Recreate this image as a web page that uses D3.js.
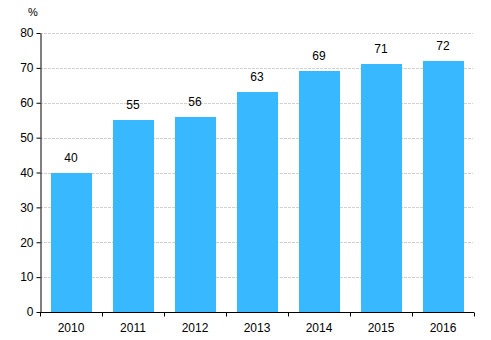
<!DOCTYPE html>
<html><head><meta charset="utf-8">
<script src="https://cdn.jsdelivr.net/npm/d3@7"></script>
<style>body{margin:0;background:#fff}svg{display:block}text{font-family:Arial,"Liberation Sans",sans-serif;font-size:12px;fill:#000}</style>
</head><body>
<svg id="c" width="491" height="340"></svg>
<script>
const categories = ["2010","2011","2012","2013","2014","2015","2016"];
const values = [40,55,56,63,69,71,72];
const yTicks = [0,10,20,30,40,50,60,70,80];
const unitLabel = "%";

(function(){
const svg = d3.select("#c");
const mLeft = 40, mRight = 474, mTop = 33, mBottom = 312;
const x = d3.scaleBand().domain(categories).range([mLeft, mRight]).paddingInner(0.34).paddingOuter(0.17);
const y = d3.scaleLinear().domain([0,80]).range([mBottom, mTop]);

// gridlines
svg.append("g").selectAll("line").data(yTicks.filter(d=>d>0)).join("line")
  .attr("x1", mLeft).attr("x2", 473)
  .attr("y1", d=>Math.round(y(d))+0.5).attr("y2", d=>Math.round(y(d))+0.5)
  .attr("stroke", "#d2d2d2").attr("stroke-width", 1).attr("stroke-dasharray","3,1");

// bars
svg.append("g").selectAll("rect").data(values).join("rect")
  .attr("x", (d,i)=>Math.round(x(categories[i])))
  .attr("width", Math.round(x.bandwidth()))
  .attr("y", d=>Math.round(y(d)))
  .attr("height", d=>mBottom - Math.round(y(d)))
  .attr("fill", "#38b8ff");

// value labels
svg.append("g").selectAll("text").data(values).join("text")
  .attr("x", (d,i)=>x(categories[i]) + x.bandwidth()/2)
  .attr("y", d=>y(d) - 11)
  .attr("text-anchor","middle")
  .text(d=>d);

// y axis
const ya = svg.append("g").attr("transform", `translate(${mLeft+0.5},0)`)
  .call(d3.axisLeft(y).tickValues(yTicks).tickSize(4).tickSizeOuter(0).tickPadding(3));
ya.select(".domain").attr("stroke","#000");
ya.selectAll(".tick line").attr("stroke","#000");
ya.selectAll("text").style("font-size","12px").attr("fill","#000").style("font-family","Arial,'Liberation Sans',sans-serif");

// x axis
const xt = d3.scalePoint().domain(d3.range(categories.length+1)).range([mLeft, mRight]);
const xa = svg.append("g").attr("transform", `translate(0,${mBottom+0.5})`);
xa.append("line").attr("x1", mLeft).attr("x2", mRight).attr("stroke","#000");
xa.selectAll("line.t").data(d3.range(categories.length+1)).join("line").attr("class","t")
  .attr("x1", d=>Math.round(xt(d))+0.5).attr("x2", d=>Math.round(xt(d))+0.5)
  .attr("y1",0).attr("y2",4).attr("stroke","#000");
xa.selectAll("text").data(categories).join("text")
  .attr("x", d=>x(d)+x.bandwidth()/2).attr("y", 19)
  .attr("text-anchor","middle").text(d=>d);

svg.append("text").attr("x", 28).attr("y", 16).attr("text-anchor","start").style("font-size","11px").text(unitLabel);
})();
</script>
</body></html>
